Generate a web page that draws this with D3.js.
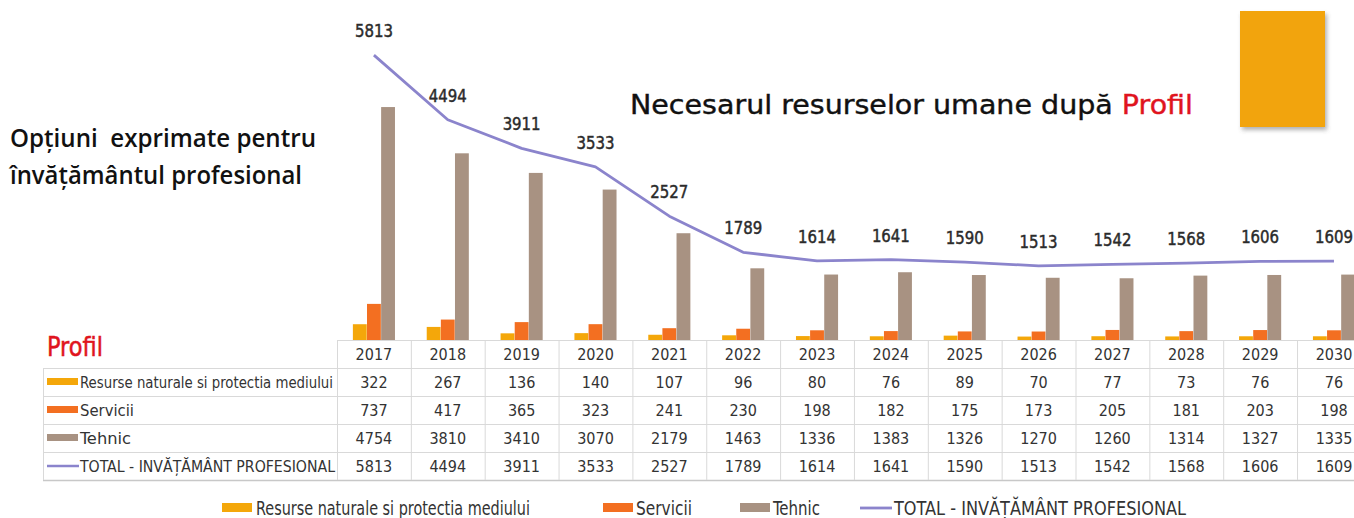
<!DOCTYPE html>
<html>
<head>
<meta charset="utf-8">
<script src="https://cdn.jsdelivr.net/npm/d3@7/dist/d3.min.js"></script>
<style>
  html, body { margin: 0; padding: 0; background: #fff; }
  svg { display: block; }
</style>
</head>
<body>
<svg id="chart" width="1354" height="518"></svg>
<script>
// Years shown along the bottom of the chart and as table header
const years = ["2017","2018","2019","2020","2021","2022","2023","2024","2025","2026","2027","2028","2029","2030"];

// Series values per year
const resurseNaturale = [322, 267, 136, 140, 107, 96, 80, 76, 89, 70, 77, 73, 76, 76];
const servicii        = [737, 417, 365, 323, 241, 230, 198, 182, 175, 173, 205, 181, 203, 198];
const tehnic          = [4754, 3810, 3410, 3070, 2179, 1463, 1336, 1383, 1326, 1270, 1260, 1314, 1327, 1335];
const totalProfesional = [5813, 4494, 3911, 3533, 2527, 1789, 1614, 1641, 1590, 1513, 1542, 1568, 1606, 1609];

const seriesNames = [
  "Resurse naturale si protectia mediului",
  "Servicii",
  "Tehnic",
  "TOTAL - INVĂȚĂMÂNT PROFESIONAL"
];
const colors = ["#F4A70A", "#F36F21", "#A89282", "#8B84CC"];

const svg = d3.select("#chart");
const NARROW = "'Liberation Sans Narrow', 'DejaVu Sans Condensed', 'Liberation Sans', sans-serif";

// Layout
const colLeft = 337, colW = 73.85;
const baseY = 340;
const labelLeft = 43;
const rowTop = 368, rowH = 28;

const x = d3.scaleBand()
  .domain(years)
  .range([colLeft, colLeft + colW * years.length])
  .padding(0);

const y = d3.scaleLinear().domain([0, 6000]).range([baseY, 46]);

const barSeries = [resurseNaturale, servicii, tehnic];
const xs = d3.scaleBand()
  .domain(d3.range(barSeries.length))
  .range([x.bandwidth() * 0.215, x.bandwidth() * 0.785])
  .paddingInner(0.02);

// Bars
const barG = svg.append("g");
barSeries.forEach((vals, si) => {
  barG.selectAll(null)
    .data(vals)
    .join("rect")
    .attr("x", (d, i) => x(years[i]) + xs(si))
    .attr("y", d => y(d))
    .attr("width", xs.bandwidth())
    .attr("height", d => baseY - y(d))
    .attr("fill", colors[si]);
});

// Total line
const line = d3.line()
  .x((d, i) => x(years[i]) + x.bandwidth() / 2)
  .y(d => y(d));
svg.append("path")
  .datum(totalProfesional)
  .attr("d", line)
  .attr("fill", "none")
  .attr("stroke", colors[3])
  .attr("stroke-width", 2.8)
  .attr("stroke-linejoin", "round");

// Total value labels above the line
svg.append("g").selectAll("text")
  .data(totalProfesional)
  .join("text")
  .attr("x", (d, i) => x(years[i]) + x.bandwidth() / 2)
  .attr("y", d => y(d) - 18)
  .attr("text-anchor", "middle")
  .attr("font-family", NARROW)
  .attr("font-size", 17.5)
  .attr("fill", "#2b2b2b")
  .attr("stroke", "#2b2b2b")
  .attr("stroke-width", 0.45)
  .attr("textLength", 38)
  .attr("lengthAdjust", "spacingAndGlyphs")
  .text(d => d);

// Data table
const tableG = svg.append("g");
const gridColor = "#d9d9d9";
const rightEdge = 1354;

// axis baseline
tableG.append("line")
  .attr("x1", colLeft).attr("x2", rightEdge)
  .attr("y1", baseY + 0.5).attr("y2", baseY + 0.5)
  .attr("stroke", gridColor);

// horizontal row lines
d3.range(seriesNames.length + 1).forEach(r => {
  tableG.append("line")
    .attr("x1", labelLeft).attr("x2", rightEdge)
    .attr("y1", rowTop + r * rowH + 0.5).attr("y2", rowTop + r * rowH + 0.5)
    .attr("stroke", r === seriesNames.length ? "#c8c8c8" : gridColor)
    .attr("stroke-width", r === seriesNames.length ? 1.5 : 1);
});

// vertical column lines
years.forEach(yr => {
  tableG.append("line")
    .attr("x1", x(yr) + 0.5).attr("x2", x(yr) + 0.5)
    .attr("y1", baseY).attr("y2", rowTop + seriesNames.length * rowH)
    .attr("stroke", gridColor);
});
tableG.append("line")
  .attr("x1", labelLeft + 0.5).attr("x2", labelLeft + 0.5)
  .attr("y1", rowTop).attr("y2", rowTop + seriesNames.length * rowH)
  .attr("stroke", gridColor);

// header years
tableG.selectAll("text.yr")
  .data(years)
  .join("text")
  .attr("class", "yr")
  .attr("x", d => x(d) + x.bandwidth() / 2)
  .attr("y", baseY + 20)
  .attr("text-anchor", "middle")
  .attr("font-family", NARROW)
  .attr("font-size", 16)
  .attr("fill", "#333")
  .text(d => d);

// row labels with keys
const rowSeries = [resurseNaturale, servicii, tehnic, totalProfesional];
const labelWidths = [253, 54, 51, 255];
rowSeries.forEach((vals, r) => {
  const cy = rowTop + r * rowH + rowH / 2;
  if (r < 3) {
    tableG.append("rect")
      .attr("x", 47).attr("y", cy - 4)
      .attr("width", 31).attr("height", 7)
      .attr("fill", colors[r]);
  } else {
    tableG.append("line")
      .attr("x1", 47).attr("x2", 79)
      .attr("y1", cy).attr("y2", cy)
      .attr("stroke", colors[r]).attr("stroke-width", 2.5);
  }
  tableG.append("text")
    .attr("x", 80)
    .attr("y", cy + 5.5)
    .attr("font-family", NARROW)
    .attr("font-size", 16)
    .attr("fill", "#333")
    .attr("textLength", labelWidths[r])
    .attr("lengthAdjust", "spacingAndGlyphs")
    .text(seriesNames[r]);

  tableG.selectAll(null)
    .data(vals)
    .join("text")
    .attr("x", (d, i) => x(years[i]) + x.bandwidth() / 2)
    .attr("y", cy + 6)
    .attr("text-anchor", "middle")
    .attr("font-family", NARROW)
    .attr("font-size", 16)
    .attr("fill", "#333")
    .text(d => d);
});

// "Profil" heading above the table
svg.append("text")
  .attr("x", 47).attr("y", 356)
  .attr("font-family", NARROW)
  .attr("font-size", 27)
  .attr("fill", "#E0141E")
  .attr("stroke", "#E0141E")
  .attr("stroke-width", 0.5)
  .attr("textLength", 56)
  .attr("lengthAdjust", "spacingAndGlyphs")
  .text("Profil");

// Left-hand caption
const caption = ["Opțiuni  exprimate pentru", "învățământul profesional"];
const captionW = [306, 292];
caption.forEach((t, i) => {
  svg.append("text")
    .attr("x", 10).attr("y", 147 + i * 37)
    .attr("font-family", "'Open Sans', 'Noto Sans', sans-serif")
    .attr("font-size", 25)
    .attr("font-weight", 600)
    .attr("fill", "#111")
    .attr("textLength", captionW[i])
    .attr("lengthAdjust", "spacingAndGlyphs")
    .attr("xml:space", "preserve")
    .text(t);
});

// Title
const title = svg.append("text")
  .attr("x", 630).attr("y", 114)
  .attr("font-family", "'DejaVu Sans', sans-serif")
  .attr("font-size", 26)
  .attr("fill", "#111")
  .attr("stroke", "#111")
  .attr("stroke-width", 0.4)
  .attr("textLength", 563)
  .attr("lengthAdjust", "spacingAndGlyphs");
title.append("tspan").text("Necesarul resurselor umane după ");
title.append("tspan").attr("fill", "#E0141E").attr("stroke", "#E0141E").text("Profil");

// Decorative orange block with a soft shadow
const defs = svg.append("defs");
const f = defs.append("filter").attr("id", "shadow").attr("x", "-20%").attr("y", "-20%").attr("width", "150%").attr("height", "150%");
f.append("feDropShadow").attr("dx", 2).attr("dy", 3).attr("stdDeviation", 2).attr("flood-color", "#555").attr("flood-opacity", 0.45);
svg.append("rect")
  .attr("x", 1240).attr("y", 11)
  .attr("width", 85).attr("height", 116)
  .attr("fill", "#F2A40A")
  .attr("filter", "url(#shadow)");

// Bottom legend
const legendItems = [
  { name: seriesNames[0], color: colors[0], type: "rect", sx: 222, sw: 30, tx: 256, tw: 274 },
  { name: seriesNames[1], color: colors[1], type: "rect", sx: 603, sw: 30, tx: 636, tw: 56 },
  { name: seriesNames[2], color: colors[2], type: "rect", sx: 740, sw: 30, tx: 773, tw: 47 },
  { name: seriesNames[3], color: colors[3], type: "line", sx: 860, sw: 32, tx: 894, tw: 292 }
];
const legY = 508;
const legG = svg.append("g");
legendItems.forEach(it => {
  if (it.type === "rect") {
    legG.append("rect").attr("x", it.sx).attr("y", legY - 5).attr("width", it.sw).attr("height", 9).attr("fill", it.color);
  } else {
    legG.append("line").attr("x1", it.sx).attr("x2", it.sx + it.sw)
      .attr("y1", legY).attr("y2", legY)
      .attr("stroke", it.color).attr("stroke-width", 2.8);
  }
  legG.append("text")
    .attr("x", it.tx).attr("y", legY + 7)
    .attr("font-family", NARROW)
    .attr("font-size", 19)
    .attr("fill", "#333")
    .attr("textLength", it.tw)
    .attr("lengthAdjust", "spacingAndGlyphs")
    .text(it.name);
});
</script>
</body>
</html>
